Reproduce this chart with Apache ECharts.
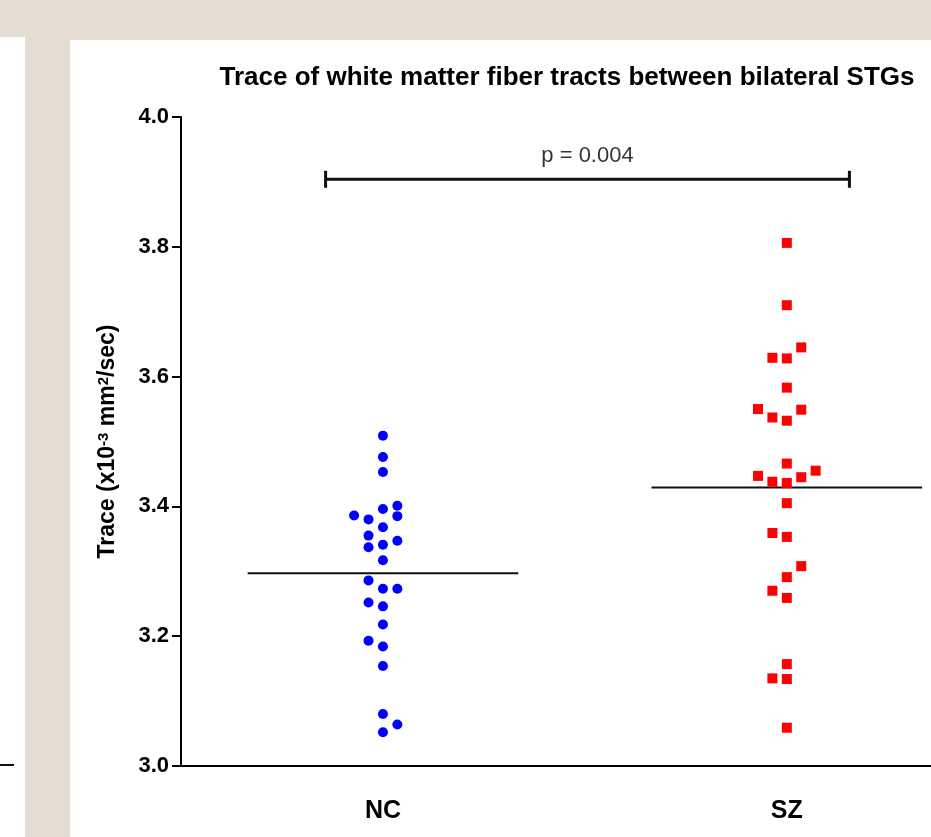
<!DOCTYPE html>
<html>
<head>
<meta charset="utf-8">
<script src="https://cdn.jsdelivr.net/npm/echarts@6/dist/echarts.min.js"></script>
<style>
  html, body { margin: 0; padding: 0; overflow: hidden; background: #e5ddd1; }
  #chart { width: 931px; height: 837px; }
</style>
</head>
<body>
<div id="chart"></div>
<script>
// ---- data ----
const groups = ['NC', 'SZ'];
const ncValues = [3.509, 3.476, 3.453, 3.401, 3.396, 3.385, 3.386, 3.380, 3.368, 3.355, 3.347, 3.341, 3.337,
                  3.317, 3.286, 3.273, 3.273, 3.252, 3.246, 3.218, 3.193, 3.184, 3.154, 3.080, 3.064, 3.052];
const ncColumns = [0, 0, 0, 1, 0, 1, -2, -1, 0, -1, 1, 0, -1,
                   0, -1, 0, 1, -1, 0, 0, -1, 0, 0, 0, 1, 0];
const szValues = [3.806, 3.710, 3.645, 3.629, 3.628, 3.583, 3.550, 3.549, 3.537, 3.532, 3.466, 3.455, 3.447, 3.445,
                  3.438, 3.436, 3.405, 3.359, 3.353, 3.308, 3.291, 3.270, 3.259, 3.157, 3.135, 3.134, 3.059];
const szColumns = [0, 0, 1, -1, 0, 0, -2, 1, -1, 0, 0, 2, -2, 1,
                   -1, 0, 0, -1, 0, 1, 0, -1, 0, 0, -1, 0, 0];
const yTicks = [3.0, 3.2, 3.4, 3.6, 3.8, 4.0];
const pText = 'p = 0.004';
const pLevel = 3.904;
const pSpan = [-0.142, 1.155];

// ---- layout constants ----
const colStep = 0.0357;     // horizontal jitter step (category units)
const meanHalf = 0.335;     // half width of mean line
const font = "'Liberation Sans', Arial, sans-serif";

function mean(a) { return a.reduce((s, v) => s + v, 0) / a.length; }
function pts(vals, cols, gi) { return vals.map((v, i) => [gi + cols[i] * colStep, v]); }

const ncMean = mean(ncValues), szMean = mean(szValues);

const chart = echarts.init(document.getElementById('chart'), null, { renderer: 'canvas' });
chart.setOption({
  backgroundColor: 'transparent',
  animation: false,
  graphic: [
    { type: 'rect', z: -10, shape: { x: 0, y: 37, width: 25, height: 800 }, style: { fill: '#ffffff' } },
    { type: 'rect', z: -9, shape: { x: 0, y: 764, width: 14, height: 2 }, style: { fill: '#111111' } },
    { type: 'rect', z: -10, shape: { x: 70, y: 40, width: 861, height: 797 }, style: { fill: '#ffffff' } }
  ],
  title: {
    text: 'Trace of white matter fiber tracts between bilateral STGs',
    left: 562, top: 60, textAlign: 'center',
    textStyle: { fontFamily: font, fontWeight: 'bold', fontSize: 26, color: '#000' }
  },
  grid: { left: 181, right: 0, top: 117, bottom: 71, containLabel: false },
  xAxis: {
    type: 'value', min: -0.5, max: 1.357,
    axisLine: { show: true, onZero: false, lineStyle: { color: '#000', width: 2 } },
    axisTick: { show: false },
    splitLine: { show: false },
    axisLabel: {
      customValues: [0, 1],
      formatter: v => groups[Math.round(v)] || '',
      margin: 33,
      fontFamily: font, fontWeight: 'bold', fontSize: 25, color: '#000'
    }
  },
  yAxis: {
    type: 'value', min: 3.0, max: 4.0, interval: 0.2,
    name: '{n|Trace (x10}{s|-3}{n| mm}{s|2}{n|/sec)}',
    nameLocation: 'middle', nameRotate: 90, nameGap: 62,
    nameTextStyle: {
      rich: {
        n: { fontFamily: font, fontWeight: 'bold', fontSize: 23, color: '#000' },
        s: { fontFamily: font, fontWeight: 'bold', fontSize: 15, color: '#000', verticalAlign: 'top', padding: [0, 0, 8, 0] }
      }
    },
    axisLine: { show: true, onZero: false, lineStyle: { color: '#000', width: 2 } },
    axisTick: { show: true, inside: false, length: 9, lineStyle: { color: '#000', width: 2 },
                customValues: yTicks },
    splitLine: { show: false },
    axisLabel: {
      customValues: yTicks,
      formatter: v => v.toFixed(1), margin: 12,
      fontFamily: font, fontWeight: 'bold', fontSize: 22, color: '#000'
    }
  },
  series: [
    {
      type: 'line', data: [[-meanHalf, ncMean], [meanHalf, ncMean]],
      symbol: 'none', lineStyle: { color: '#111', width: 2 }, z: 1
    },
    {
      type: 'line', data: [[1 - meanHalf, szMean], [1 + meanHalf, szMean]],
      symbol: 'none', lineStyle: { color: '#111', width: 2 }, z: 1
    },
    {
      type: 'line', data: [[pSpan[0], pLevel], [pSpan[1], pLevel]],
      symbol: 'rect', symbolSize: [3, 17], showSymbol: true,
      itemStyle: { color: '#111' },
      lineStyle: { color: '#111', width: 3 }
    },
    {
      type: 'scatter', data: [[(pSpan[0] + pSpan[1]) / 2, pLevel]], symbolSize: 0,
      label: { show: true, position: 'top', distance: 12, formatter: pText,
               fontFamily: font, fontSize: 22, color: '#000' }
    },
    {
      type: 'scatter', name: groups[0], data: pts(ncValues, ncColumns, 0),
      symbol: 'circle', symbolSize: 10, itemStyle: { color: '#0000ff', opacity: 1 }, z: 3
    },
    {
      type: 'scatter', name: groups[1], data: pts(szValues, szColumns, 1),
      symbol: 'rect', symbolSize: 10, itemStyle: { color: '#ff0000', opacity: 1 }, z: 3
    }
  ]
});
</script>
</body>
</html>
